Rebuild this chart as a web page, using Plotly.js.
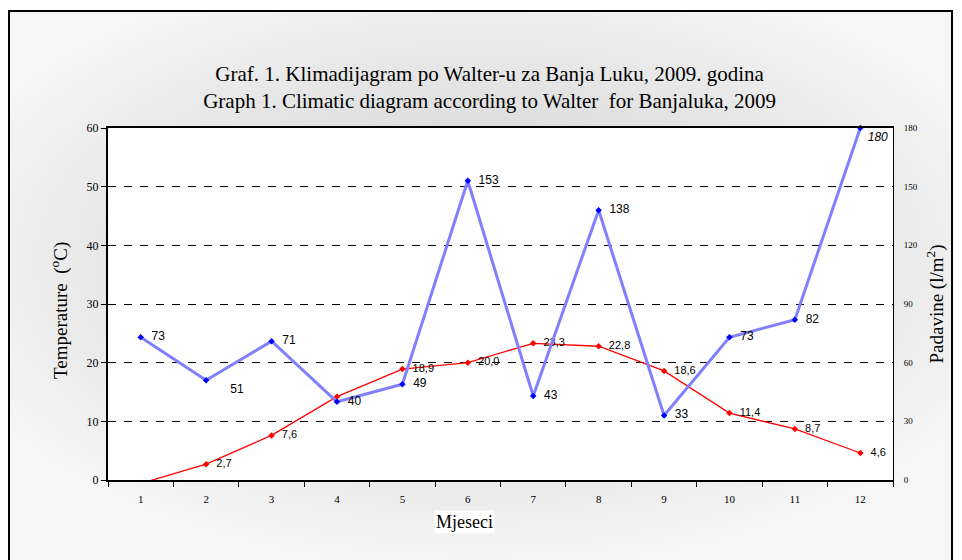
<!DOCTYPE html>
<html>
<head>
<meta charset="utf-8">
<script src="https://cdn.plot.ly/plotly-3.0.1.min.js"></script>
<style>
  html, body { margin:0; padding:0; background:#fff; }
  #wrap { position:relative; width:962px; height:560px; overflow:hidden; }
  #frame { position:absolute; left:8px; top:10px; width:945px; height:560px;
           border:2px solid #000; box-sizing:border-box;
           background: radial-gradient(ellipse 60% 55% at 50% 45%, #d4d4d4 0%, #dedede 45%, #f6f6f6 100%); }
  #chart { position:absolute; left:0; top:0; width:962px; height:560px; }
</style>
</head>
<body>
<div id="wrap">
  <div id="frame"></div>
  <div id="chart"></div>
</div>
<script>
const months = ["1","2","3","4","5","6","7","8","9","10","11","12"];
const temperature = [-0.6, 2.7, 7.6, 14.2, 18.9, 20.0, 23.3, 22.8, 18.6, 11.4, 8.7, 4.6];
const precipitation = [73, 51, 71, 40, 49, 153, 43, 138, 33, 73, 82, 180];
const tempLabelShown = [false, true, true, false, true, true, true, true, true, true, true, true];
const leftTicks = [0, 10, 20, 30, 40, 50, 60];
const rightTicks = [0, 30, 60, 90, 120, 150, 180];

const serif = "Liberation Serif, Times New Roman, serif";
const sans = "Liberation Sans, Arial, sans-serif";

const tempText = temperature.map((v, i) => tempLabelShown[i] ? '  ' + v.toFixed(1).replace('.', ',') : ' ');
const precText = precipitation.map((v, i) => i === 1 ? '      ' + v : (i === 11 ? ' <i>' + v + '</i>' : '  ' + v));
const precPos = precipitation.map((v, i) => (i === 1 || i === 11) ? 'bottom right' : 'middle right');

const traces = [
  {
    x: months, y: precipitation, yaxis: 'y2', type: 'scatter',
    mode: 'lines+markers+text',
    line: { color: '#8080ff', width: 3 },
    marker: { symbol: 'diamond', size: 5, color: '#0000ff' },
    text: precText, textposition: precPos,
    textfont: { family: sans, size: 12, color: '#000' },
    cliponaxis: false, hoverinfo: 'skip'
  },
  {
    x: months, y: temperature, yaxis: 'y', type: 'scatter',
    mode: 'lines+markers+text',
    line: { color: '#ff0000', width: 1.3 },
    marker: { symbol: 'diamond', size: 5, color: '#ff0000' },
    text: tempText, textposition: 'middle right',
    textfont: { family: sans, size: 11, color: '#000' },
    cliponaxis: true, hoverinfo: 'skip'
  }
];

const layout = {
  width: 962, height: 560,
  margin: { l: 108, r: 69, t: 128, b: 80 },
  paper_bgcolor: 'rgba(0,0,0,0)',
  plot_bgcolor: '#ffffff',
  showlegend: false,
  title: {
    text: 'Graf. 1. Klimadijagram po Walter-u za Banja Luku, 2009. godina<br>Graph 1. Climatic diagram according to Walter  for Banjaluka, 2009',
    font: { family: serif, size: 21, color: '#000' },
    xref: 'container', x: 0.509, xanchor: 'center',
    yref: 'container', y: 1 - 81 / 560, yanchor: 'top'
  },
  xaxis: {
    type: 'category', tickson: 'boundaries',
    ticks: 'outside', ticklen: 5, tickcolor: '#000', tickwidth: 1,
    showline: true, linecolor: '#000', linewidth: 2, mirror: true,
    showgrid: false, zeroline: false, ticklabelstandoff: 8,
    tickfont: { family: serif, size: 11, color: '#000' },
    range: [-0.5, 11.5], fixedrange: true
  },
  yaxis: {
    range: [0, 60], tickvals: leftTicks,
    ticks: 'outside', ticklen: 5, tickcolor: '#000',
    showline: true, linecolor: '#000', linewidth: 2,
    showgrid: true, gridcolor: '#000', gridwidth: 1, griddash: '8px,8px',
    zeroline: false,
    tickfont: { family: serif, size: 12, color: '#000' }
  },
  yaxis2: {
    range: [0, 180], tickvals: rightTicks, overlaying: 'y', side: 'right',
    ticks: '', showline: true, linecolor: '#000', linewidth: 1,
    showgrid: false, zeroline: false, ticklabelstandoff: 8,
    tickfont: { family: serif, size: 9, color: '#000' },
    title: { text: 'Padavine (l/m<sup>2</sup>)', font: { family: serif, size: 19, color: '#000' }, standoff: 12 }
  },
  annotations: [
    {
      text: 'Temperature  (<sup>o</sup>C)', xref: 'paper', yref: 'paper',
      x: (59 - 108) / 785, y: (480 - 311) / 352, xanchor: 'center', yanchor: 'middle',
      textangle: -90, showarrow: false,
      font: { family: serif, size: 19, color: '#000' }
    },
    {
      text: 'Mjeseci', xref: 'paper', yref: 'paper',
      x: (464 - 108) / 785, y: (480 - 522) / 352, xanchor: 'center', yanchor: 'middle',
      showarrow: false, bgcolor: '#ffffff', borderpad: 1,
      font: { family: serif, size: 18, color: '#000' }
    }
  ]
};

Plotly.newPlot('chart', traces, layout, { displayModeBar: false, staticPlot: true });
</script>
</body>
</html>
